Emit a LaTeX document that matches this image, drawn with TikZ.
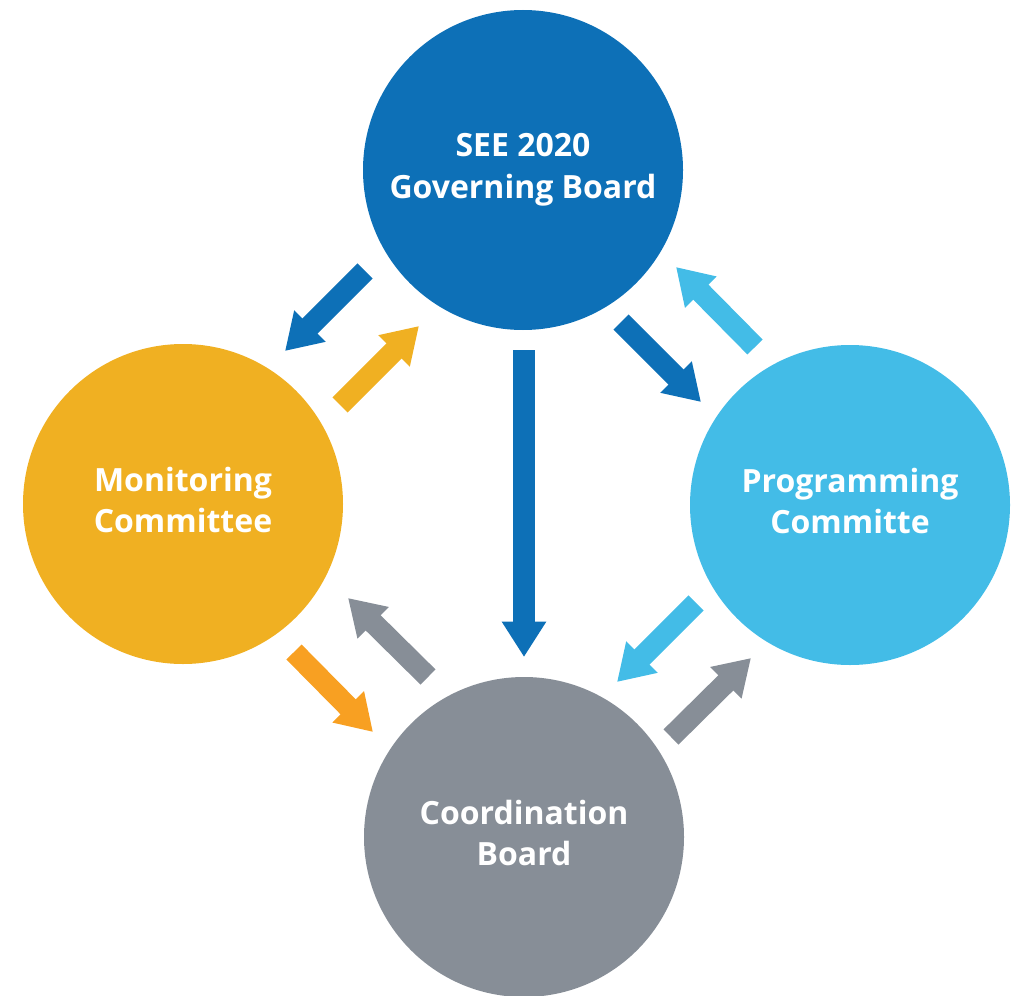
\documentclass[tikz,border=0pt]{standalone}
\usepackage{fontspec}
\setmainfont{Open Sans}
\usetikzlibrary{arrows.meta}
\definecolor{cdark}{HTML}{0D70B7}
\definecolor{cyellow}{HTML}{F0B022}
\definecolor{clight}{HTML}{43BCE7}
\definecolor{cgray}{HTML}{878E97}
\definecolor{corange}{HTML}{F8A022}
\tikzset{
  circ/.style={circle, minimum size=240pt, inner sep=0pt, text=white,
    font=\fontsize{24pt}{31pt}\selectfont\bfseries, align=center, text depth=6pt},
  barrow/.style={line width=16pt, draw=#1,
    -{Triangle[width=31.5pt, length=26.5pt, fill=#1]}}
}
\begin{document}
\begin{tikzpicture}[x=0.75pt, y=-0.75pt]
\useasboundingbox (0,0) rectangle (1016,995);
% circles
\node[circ, fill=cdark]   (gov)  at (523,170) {SEE 2020\\Governing Board};
\node[circ, fill=cyellow] (mon)  at (183,504) {Monitoring\\Committee};
\node[circ, fill=clight]  (prog) at (850,505) {Programming\\Committe};
\node[circ, fill=cgray]   (coord) at (524,837) {Coordination\\Board};
% arrow end points
\coordinate (a1s) at (365,271); \coordinate (a1e) at (285,351);
\coordinate (a2s) at (340,405); \coordinate (a2e) at (419,326);
\coordinate (a3s) at (524,350); \coordinate (a3e) at (524,657);
\coordinate (a4s) at (621,322); \coordinate (a4e) at (701,402);
\coordinate (a5s) at (755,347); \coordinate (a5e) at (676,267);
\coordinate (a6s) at (696,603); \coordinate (a6e) at (617,682);
\coordinate (a7s) at (671,737); \coordinate (a7e) at (751,658);
\coordinate (a8s) at (294,652); \coordinate (a8e) at (373,732);
\coordinate (a9s) at (428,677); \coordinate (a9e) at (348,598);
% arrows
\draw[barrow=cdark]   (a1s) -- (a1e);
\draw[barrow=cyellow] (a2s) -- (a2e);
\draw[barrow=cdark]   (a3s) -- (a3e);
\draw[barrow=cdark]   (a4s) -- (a4e);
\draw[barrow=clight]  (a5s) -- (a5e);
\draw[barrow=clight]  (a6s) -- (a6e);
\draw[barrow=cgray]   (a7s) -- (a7e);
\draw[barrow=corange] (a8s) -- (a8e);
\draw[barrow=cgray]   (a9s) -- (a9e);
\end{tikzpicture}
\end{document}
